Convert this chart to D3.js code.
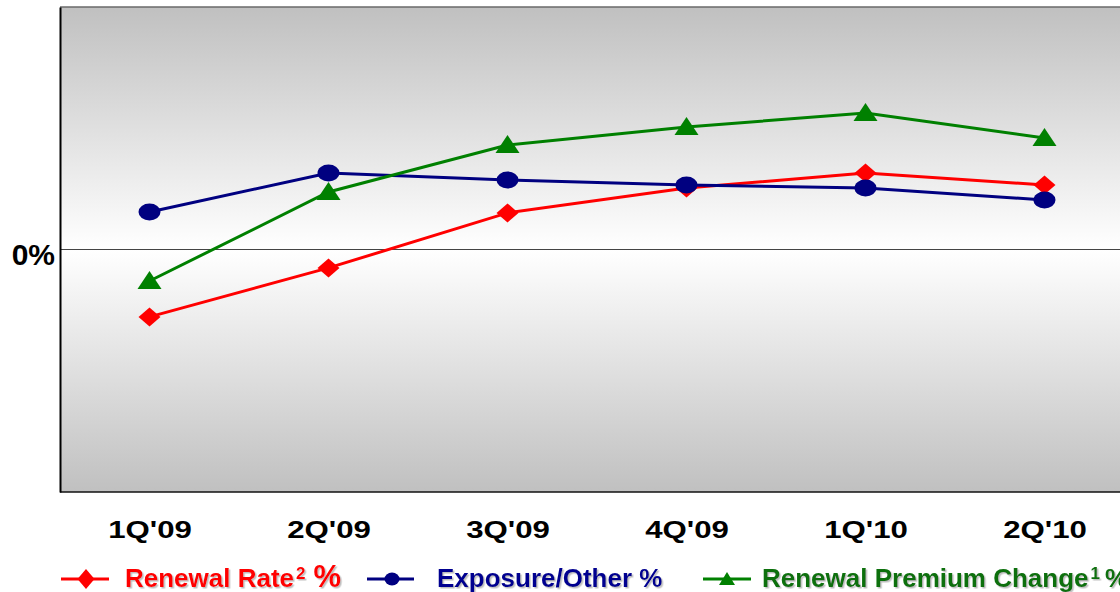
<!DOCTYPE html>
<html>
<head>
<meta charset="utf-8">
<script src="https://cdn.jsdelivr.net/npm/d3@7"></script>
<style>
  html, body { margin: 0; padding: 0; background: #ffffff; }
  svg { display: block; }
  text { font-family: "Liberation Sans", Arial, sans-serif; font-weight: bold; }
</style>
</head>
<body>
<svg id="chart" width="1120" height="592"></svg>
<script>
// ---- data ----
const categories = ["1Q'09", "2Q'09", "3Q'09", "4Q'09", "1Q'10", "2Q'10"];
const renewalRate = [-2.78, -0.76, 1.51, 2.54, 3.15, 2.66];
const exposureOther = [1.55, 3.15, 2.87, 2.66, 2.54, 2.04];
const renewalPremiumChange = [-1.30, 2.37, 4.31, 5.05, 5.63, 4.60];
const yTickValues = [0];
const yTickLabels = ["0%"];

// ---- layout ----
const svg = d3.select("#chart");
const plot = { left: 60, top: 7, right: 1134, bottom: 492 };

const x = d3.scalePoint().domain(categories).range([plot.left, plot.right]).padding(0.5);
const y = d3.scaleLinear().domain([-10, 10]).range([plot.bottom, plot.top]);

const defs = svg.append("defs");
const grad = defs.append("linearGradient").attr("id", "bg")
  .attr("x1", 0).attr("y1", 0).attr("x2", 0).attr("y2", 1);
grad.append("stop").attr("offset", "0%").attr("stop-color", "#c0c0c0");
grad.append("stop").attr("offset", "50%").attr("stop-color", "#ffffff");
grad.append("stop").attr("offset", "100%").attr("stop-color", "#c0c0c0");

const shadow = defs.append("filter").attr("id", "shadow")
  .attr("x", "-5%").attr("y", "-20%").attr("width", "115%").attr("height", "150%");
shadow.append("feDropShadow").attr("dx", 1.5).attr("dy", 1.5).attr("stdDeviation", 0.6)
  .attr("flood-color", "#8a8a8a").attr("flood-opacity", 0.55);

// background
svg.append("rect")
  .attr("x", plot.left).attr("y", plot.top)
  .attr("width", plot.right - plot.left).attr("height", plot.bottom - plot.top)
  .attr("fill", "url(#bg)");

// frame
svg.append("line").attr("x1", plot.left).attr("x2", 1120).attr("y1", plot.top).attr("y2", plot.top)
  .attr("stroke", "#6a6a6a").attr("stroke-width", 1.5);
svg.append("line").attr("x1", plot.left).attr("x2", 1120).attr("y1", plot.bottom).attr("y2", plot.bottom)
  .attr("stroke", "#111").attr("stroke-width", 1.5);

// zero line
svg.append("line").attr("x1", plot.left).attr("x2", 1120).attr("y1", y(0)).attr("y2", y(0))
  .attr("stroke", "#444").attr("stroke-width", 1.2);

// left axis
const yAxis = d3.axisLeft(y).tickValues(yTickValues).tickSize(0)
  .tickFormat((d, i) => yTickLabels[i]);
const gy = svg.append("g").attr("transform", `translate(${plot.left},0)`).call(yAxis);
gy.select(".domain").attr("stroke", "#000").attr("stroke-width", 2);
gy.selectAll("text").attr("x", -5).attr("dy", null).attr("y", 14.5)
  .attr("fill", "#000").style("font-size", "30px").style("font-weight", "bold")
  .style("font-family", "'Liberation Sans', Arial, sans-serif");

// bottom labels
const xAxis = d3.axisBottom(x).tickSize(0);
const gx = svg.append("g").attr("transform", `translate(0,${plot.bottom})`).call(xAxis);
gx.select(".domain").remove();
gx.selectAll("text").attr("dy", null).attr("y", 0)
  .attr("transform", "translate(0,46) scale(1.3,1)")
  .attr("fill", "#000").style("font-size", "24px").style("font-weight", "bold")
  .style("font-family", "'Liberation Sans', Arial, sans-serif");

// series
const diamondPath = "M0,-9.5L11,0L0,9.5L-11,0Z";
const trianglePath = "M0,-10L12,8L-12,8Z";

const series = [
  { name: "red", values: renewalRate, color: "#ff0000", marker: "diamond" },
  { name: "blue", values: exposureOther, color: "#000080", marker: "circle" },
  { name: "green", values: renewalPremiumChange, color: "#008000", marker: "triangle" }
];

const line = d3.line().x((d, i) => x(categories[i])).y(d => y(d));

series.forEach(s => {
  const g = svg.append("g");
  g.append("path").attr("d", line(s.values)).attr("fill", "none")
    .attr("stroke", s.color).attr("stroke-width", 3);
  const pts = g.selectAll(".m").data(s.values).enter();
  if (s.marker === "circle") {
    pts.append("ellipse").attr("cx", (d, i) => x(categories[i])).attr("cy", d => y(d))
      .attr("rx", 11).attr("ry", 8.5).attr("fill", s.color);
  } else {
    pts.append("path").attr("d", s.marker === "diamond" ? diamondPath : trianglePath)
      .attr("transform", (d, i) => `translate(${x(categories[i])},${y(d)})`)
      .attr("fill", s.color);
  }
});

// legend
const legY = 579;
const textY = 587;
const leg = svg.append("g");
// red
leg.append("line").attr("x1", 61).attr("x2", 109).attr("y1", legY).attr("y2", legY)
  .attr("stroke", "#ff0000").attr("stroke-width", 3);
leg.append("path").attr("d", "M0,-10L8.5,0L0,10L-8.5,0Z")
  .attr("transform", `translate(86,${legY})`).attr("fill", "#ff0000");
const t1 = leg.append("text").attr("x", 125).attr("y", textY).attr("fill", "#ff0000")
  .attr("filter", "url(#shadow)").style("font-size", "26px");
t1.append("tspan").text("Renewal Rate");
t1.append("tspan").attr("dx", 2).attr("dy", -8).style("font-size", "17px").text("2");
t1.append("tspan").attr("dx", 8).attr("dy", 8).style("font-size", "31px").text("%");

// blue
leg.append("line").attr("x1", 367).attr("x2", 414).attr("y1", legY).attr("y2", legY)
  .attr("stroke", "#000080").attr("stroke-width", 3);
leg.append("ellipse").attr("cx", 392).attr("cy", legY).attr("rx", 7.5).attr("ry", 6.5)
  .attr("fill", "#000080");
leg.append("text").attr("x", 437).attr("y", textY).attr("fill", "#000090")
  .attr("filter", "url(#shadow)").style("font-size", "26px").text("Exposure/Other %");

// green
leg.append("line").attr("x1", 703).attr("x2", 751).attr("y1", legY).attr("y2", legY)
  .attr("stroke", "#008000").attr("stroke-width", 3);
leg.append("path").attr("d", "M0,-7L8,6L-8,6Z")
  .attr("transform", `translate(727,${legY})`).attr("fill", "#008000");
const t3 = leg.append("text").attr("x", 762).attr("y", textY).attr("fill", "#0a700a")
  .attr("filter", "url(#shadow)").style("font-size", "26px");
t3.append("tspan").text("Renewal Premium Change");
t3.append("tspan").attr("dx", 2).attr("dy", -8).style("font-size", "17px").text("1");
t3.append("tspan").attr("dx", 5).attr("dy", 8).text("%");
</script>
</body>
</html>
